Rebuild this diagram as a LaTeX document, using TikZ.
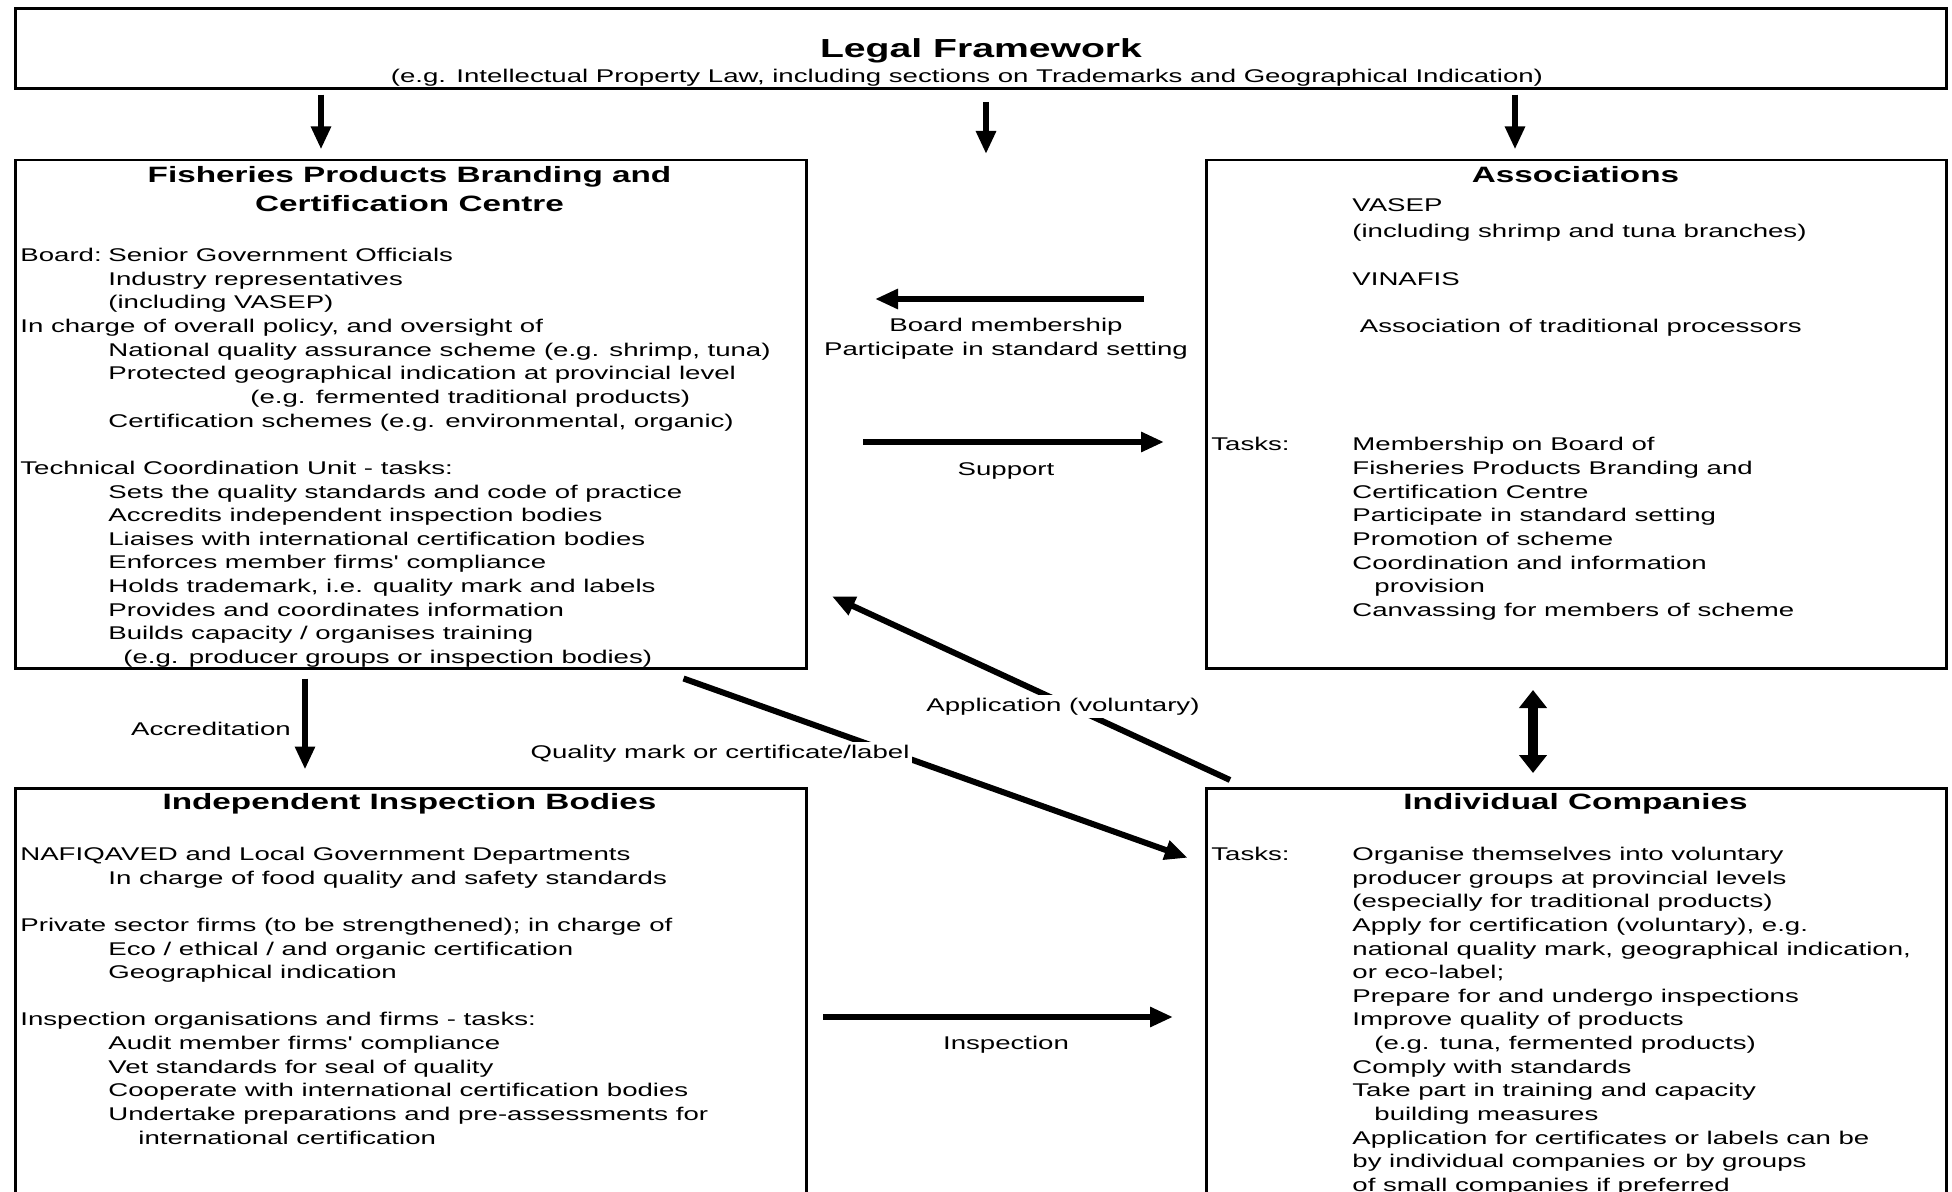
\documentclass[tikz,border=0pt]{standalone}
\usepackage{fontspec}
\usetikzlibrary{arrows.meta}
\newfontfamily\dfont[FakeStretch=1.5]{Liberation Sans}
\newcommand{\bodyfont}{\dfont\fontsize{9.2}{11.8}\selectfont}
\newcommand{\headfont}{\dfont\bfseries\fontsize{11.1}{13}\selectfont}
\newcommand{\titlefont}{\dfont\bfseries\fontsize{13.05}{15}\selectfont}
\tikzset{
  frame/.style={draw, line width=1.25pt, inner sep=0pt, anchor=north west},
  ln/.style={anchor=base west, inner sep=0pt, font=\bodyfont},
  lab/.style={anchor=base, inner sep=0pt, font=\bodyfont},
  wlab/.style={anchor=base, inner sep=1.5pt, fill=white, font=\bodyfont},
  hd/.style={anchor=base, inner sep=0pt, font=\headfont},
  arr/.style={line width=3pt, -{Triangle[length=11.5pt,width=9.5pt]}},
  dblarr/.style={line width=5pt, {Triangle[length=9pt,width=13.5pt]}-{Triangle[length=9pt,width=13.5pt]}},
}
\begin{document}
\begin{tikzpicture}[x=0.5pt, y=-0.5pt]
\useasboundingbox (0,0) rectangle (1952,1192);
\clip (0,0) rectangle (1952,1192);
\fill[white] (0,0) rectangle (1952,1192);

% ---------- frames ----------
\node[frame, minimum width=965.5pt, minimum height=40pt] (legal) at (14,7.5) {};
\node[frame, minimum width=395.5pt, minimum height=254pt] (centre) at (14,159) {};
\node[frame, minimum width=370pt, minimum height=254pt] (assoc) at (1205,159) {};
\node[frame, minimum width=395.5pt, minimum height=216.5pt] (iib) at (14,787) {};
\node[frame, minimum width=370pt, minimum height=216.5pt] (comp) at (1205,787) {};

% ---------- legal framework ----------
\node[anchor=base, inner sep=0pt, font=\titlefont] (legal-t) at (981,58) {Legal Framework};
\node[lab] (legal-s) at (967,83) {(e.g. Intellectual Property Law, including sections on Trademarks and Geographical Indication)};

% ---------- branding and certification centre ----------
\node[hd] (centre-h1) at (409.5,183) {Fisheries Products Branding and};
\node[hd] (centre-h2) at (409.5,211.6) {Certification Centre};
\node[ln] (centre-board) at (20,261.5) {Board:};
\foreach \k/\xx/\tt [count=\i] in {
  0/108/{Senior Government Officials},
  1/108/{Industry representatives},
  2/108/{(including VASEP)},
  3/20/{In charge of overall policy, and oversight of},
  4/108/{National quality assurance scheme (e.g. shrimp, tuna)},
  5/108/{Protected geographical indication at provincial level},
  6/250/{(e.g. fermented traditional products)},
  7/108/{Certification schemes (e.g. environmental, organic)},
  9/20/{Technical Coordination Unit - tasks:},
  10/108/{Sets the quality standards and code of practice},
  11/108/{Accredits independent inspection bodies},
  12/108/{Liaises with international certification bodies},
  13/108/{Enforces member firms' compliance},
  14/108/{Holds trademark, i.e. quality mark and labels},
  15/108/{Provides and coordinates information},
  16/108/{Builds capacity / organises training},
  17/123/{(e.g. producer groups or inspection bodies)}}
  \node[ln, name=centre-\i] at (\xx, 261.5+23.65*\k) {\tt};

% ---------- associations ----------
\node[hd] (assoc-h) at (1575.5,183) {Associations};
\node[ln] (assoc-tasks) at (1211,450.8) {Tasks:};
\foreach \yy/\xx/\tt [count=\i] in {
  211.5/1352/{VASEP},
  238/1352/{(including shrimp and tuna branches)},
  285.2/1352/{VINAFIS},
  332.5/1359.5/{Association of traditional processors},
  450.8/1352/{Membership on Board of},
  474.4/1352/{Fisheries Products Branding and},
  498.1/1352/{Certification Centre},
  521.7/1352/{Participate in standard setting},
  545.4/1352/{Promotion of scheme},
  569/1352/{Coordination and information},
  592.7/1374/{provision},
  616.4/1352/{Canvassing for members of scheme}}
  \node[ln, name=assoc-\i] at (\xx,\yy) {\tt};

% ---------- independent inspection bodies ----------
\node[hd] (iib-h) at (409.5,809) {Independent Inspection Bodies};
\foreach \k/\xx/\tt [count=\i] in {
  0/20/{NAFIQAVED and Local Government Departments},
  1/108/{In charge of food quality and safety standards},
  3/20/{Private sector firms (to be strengthened); in charge of},
  4/108/{Eco / ethical / and organic certification},
  5/108/{Geographical indication},
  7/20/{Inspection organisations and firms - tasks:},
  8/108/{Audit member firms' compliance},
  9/108/{Vet standards for seal of quality},
  10/108/{Cooperate with international certification bodies},
  11/108/{Undertake preparations and pre-assessments for},
  12/138/{international certification}}
  \node[ln, name=iib-\i] at (\xx, 860.4+23.65*\k) {\tt};

% ---------- individual companies ----------
\node[hd] (comp-h) at (1575.5,809) {Individual Companies};
\node[ln] (comp-tasks) at (1211,860.4) {Tasks:};
\foreach \k/\xx/\tt [count=\i] in {
  0/1352/{Organise themselves into voluntary},
  1/1352/{producer groups at provincial levels},
  2/1352/{(especially for traditional products)},
  3/1352/{Apply for certification (voluntary), e.g.},
  4/1352/{national quality mark, geographical indication,},
  5/1352/{or eco-label;},
  6/1352/{Prepare for and undergo inspections},
  7/1352/{Improve quality of products},
  8/1374/{(e.g. tuna, fermented products)},
  9/1352/{Comply with standards},
  10/1352/{Take part in training and capacity},
  11/1374/{building measures},
  12/1352/{Application for certificates or labels can be},
  13/1352/{by individual companies or by groups},
  14/1352/{of small companies if preferred}}
  \node[ln, name=comp-\i] at (\xx, 860.4+23.65*\k) {\tt};

% ---------- connector end points ----------
\coordinate (l1a) at (321,94.6);   \coordinate (l1b) at (321,149.4);
\coordinate (l2a) at (986,102);    \coordinate (l2b) at (986,154);
\coordinate (l3a) at (1515,94.6);  \coordinate (l3b) at (1515,149.4);
\coordinate (bma) at (1144,299);   \coordinate (bmb) at (875,299);
\coordinate (spa) at (863,442);    \coordinate (spb) at (1164,442);
\coordinate (aca) at (305,678.5);  \coordinate (acb) at (305,769.5);
\coordinate (apa) at (1230,780);   \coordinate (apb) at (832,596.4);
\coordinate (qma) at (683.5,678.5);\coordinate (qmb) at (1187.7,857.8);
\coordinate (dba) at (1533,690);   \coordinate (dbb) at (1533,773);
\coordinate (ina) at (823,1017);   \coordinate (inb) at (1173,1017);

% ---------- connectors ----------
\draw[arr] (l1a) -- (l1b);
\draw[arr] (l2a) -- (l2b);
\draw[arr] (l3a) -- (l3b);
\draw[arr] (bma) -- (bmb);
\draw[arr] (spa) -- (spb);
\draw[arr] (aca) -- (acb);
\draw[arr] (apa) -- (apb);
\draw[arr] (qma) -- (qmb);
\draw[dblarr] (dba) -- (dbb);
\draw[arr] (ina) -- (inb);

% ---------- connector labels ----------
\node[lab] (bm-1) at (1006,332) {Board membership};
\node[lab] (bm-2) at (1006,355.6) {Participate in standard setting};
\node[lab] (sp-l) at (1006,475) {Support};
\node[wlab] (ap-l) at (1063,711) {Application (voluntary)};
\node[wlab] (qm-l) at (720,758) {Quality mark or certificate/label};
\node[lab] (ac-l) at (211,735) {Accreditation};
\node[lab] (in-l) at (1006,1049) {Inspection};
\end{tikzpicture}
\end{document}
